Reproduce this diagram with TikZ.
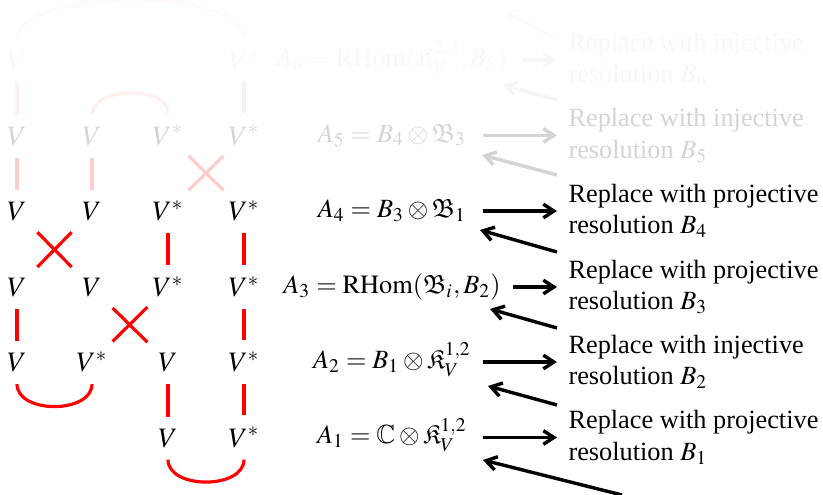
\documentclass[tikz,border=0pt]{standalone}
\usepackage{mathptmx}
\usepackage{amssymb}
\usepackage{fontspec}
\setmainfont{Liberation Serif}
\usetikzlibrary{arrows.meta}
\begin{document}
\begin{tikzpicture}[x=0.38pt,y=-0.38pt,
  strand/.style={line width=1.2pt,draw=red},
  sfa/.style={strand,draw=red!2},
  sf6/.style={strand,draw=red!6},
  sf5/.style={strand,draw=red!20},
  vert/.style={shorten <=4.4pt,shorten >=4.4pt},
  cross/.style={shorten <=11pt,shorten >=11pt},
  vv/.style={anchor=base,inner sep=0pt,font=\fontsize{10.7pt}{13pt}\selectfont},
  eqn/.style={anchor=base,inner sep=0pt},
  txt/.style={anchor=west,align=left,inner xsep=4.18pt,inner ysep=0pt},
  arr/.style={-{Straight Barb[length=4pt,width=5.2pt]},line width=1.3pt},
  g6/.style={text=black!3},
  g5/.style={text=black!17}]
\useasboundingbox (0,0) rectangle (823,495);
% ---------- grid of V's
\node[vv,g6] (v11) at (17,69.5) {$V$};
\node[vv,g6] (v14) at (244,69.5) {$V^*$};
\node[vv,g5] (v21) at (17,145) {$V$};
\node[vv,g5] (v22) at (92,145) {$V$};
\node[vv,g5] (v23) at (168,145) {$V^*$};
\node[vv,g5] (v24) at (244,145) {$V^*$};
\node[vv] (v31) at (17,220.5) {$V$};
\node[vv] (v32) at (92,220.5) {$V$};
\node[vv] (v33) at (168,220.5) {$V^*$};
\node[vv] (v34) at (244,220.5) {$V^*$};
\node[vv] (v41) at (17,296.5) {$V$};
\node[vv] (v42) at (92,296.5) {$V$};
\node[vv] (v43) at (168,296.5) {$V^*$};
\node[vv] (v44) at (244,296.5) {$V^*$};
\node[vv] (v51) at (17,371.5) {$V$};
\node[vv] (v52) at (92,371.5) {$V^*$};
\node[vv] (v53) at (168,371.5) {$V$};
\node[vv] (v54) at (244,371.5) {$V^*$};
\node[vv] (v63) at (168,447) {$V$};
\node[vv] (v64) at (244,447) {$V^*$};
% ---------- strands
\draw[sfa] ([yshift=4.4pt]v11.north) .. controls +(0,-51) and +(0,-51) .. ([yshift=4.4pt]v14.north);
\draw[sf6,vert] (v11.south) -- (v21.north);
\draw[sf6,vert] (v14.south) -- (v24.north);
\draw[sf6] ([yshift=4.4pt]v22.north) .. controls +(0,-28) and +(0,-28) .. ([yshift=4.4pt]v23.north);
\draw[sf5,vert] (v21.south) -- (v31.north);
\draw[sf5,vert] (v22.south) -- (v32.north);
\draw[sf5,cross] (v23.center) -- (v34.center);
\draw[sf5,cross] (v24.center) -- (v33.center);
\draw[strand,cross] (v31.center) -- (v42.center);
\draw[strand,cross] (v32.center) -- (v41.center);
\draw[strand,vert] (v33.south) -- (v43.north);
\draw[strand,vert] (v34.south) -- (v44.north);
\draw[strand,vert] (v41.south) -- (v51.north);
\draw[strand,cross] (v42.center) -- (v53.center);
\draw[strand,cross] (v43.center) -- (v52.center);
\draw[strand,vert] (v44.south) -- (v54.north);
\draw[strand] ([yshift=-4.4pt]v51.south) .. controls +(0,30) and +(0,30) .. ([yshift=-4.4pt]v52.south);
\draw[strand,vert] (v53.south) -- (v63.north);
\draw[strand,vert] (v54.south) -- (v64.north);
\draw[strand] ([yshift=-4.4pt]v63.south) .. controls +(0,30) and +(0,30) .. ([yshift=-4.4pt]v64.south);
% ---------- equations
\node[eqn,g6] (e6) at (392,66.5) {$A_6=\mathrm{RHom}(\mathfrak{K}_V^{2,3},B_5)$};
\node[eqn,g5] (e5) at (392,142) {$A_5=B_4\otimes\mathfrak{B}_3$};
\node[eqn] (e4) at (392,217.5) {$A_4=B_3\otimes\mathfrak{B}_1$};
\node[eqn] (e3) at (392,293.5) {$A_3=\mathrm{RHom}(\mathfrak{B}_i,B_2)$};
\node[eqn] (e2) at (392,368.5) {$A_2=B_1\otimes\mathfrak{K}_V^{1,2}$};
\node[eqn] (e1) at (392,444) {$A_1=\mathbb{C}\otimes\mathfrak{K}_V^{1,2}$};
% ---------- texts
\node[txt,g6] (t6) at (557,60) {Replace with injective\\resolution $B_6$};
\node[txt,g5] (t5) at (557,135.5) {Replace with injective\\resolution $B_5$};
\node[txt] (t4) at (557,211) {Replace with projective\\resolution $B_4$};
\node[txt] (t3) at (557,287) {Replace with projective\\resolution $B_3$};
\node[txt] (t2) at (557,362) {Replace with injective\\resolution $B_2$};
\node[txt] (t1) at (557,437.5) {Replace with projective\\resolution $B_1$};
% ---------- arrow ends
\coordinate (s6) at (522,60);
\coordinate (s5) at (483,135.5);
\coordinate (s4) at (483,211);
\coordinate (s3) at (513,287);
\coordinate (s2) at (483,362);
\coordinate (s1) at (483,437.5);
\coordinate (b7t) at (557,39);   \coordinate (b7h) at (504,11);
\coordinate (b6t) at (557,100);  \coordinate (b6h) at (503,85);
\coordinate (b5t) at (557,175);  \coordinate (b5h) at (482,155);
\coordinate (b4t) at (557,252);  \coordinate (b4h) at (480,230);
\coordinate (b3t) at (557,328);  \coordinate (b3h) at (490,309);
\coordinate (b2t) at (557,405);  \coordinate (b2h) at (488,386);
\coordinate (b1t) at (622,495);  \coordinate (b1h) at (483,460);
% ---------- arrows
\draw[arr,black!3] (s6) -- (t6.west);
\draw[arr,black!17] (s5) -- (t5.west);
\draw[arr] (s4) -- (t4.west);
\draw[arr] (s3) -- (t3.west);
\draw[arr] (s2) -- (t2.west);
\draw[arr] (s1) -- (t1.west);
\draw[arr,black!1.5] (b7t) -- (b7h);
\draw[arr,black!4] (b6t) -- (b6h);
\draw[arr,black!17] (b5t) -- (b5h);
\draw[arr] (b4t) -- (b4h);
\draw[arr] (b3t) -- (b3h);
\draw[arr] (b2t) -- (b2h);
\draw[arr] (b1t) -- (b1h);
\end{tikzpicture}
\end{document}
